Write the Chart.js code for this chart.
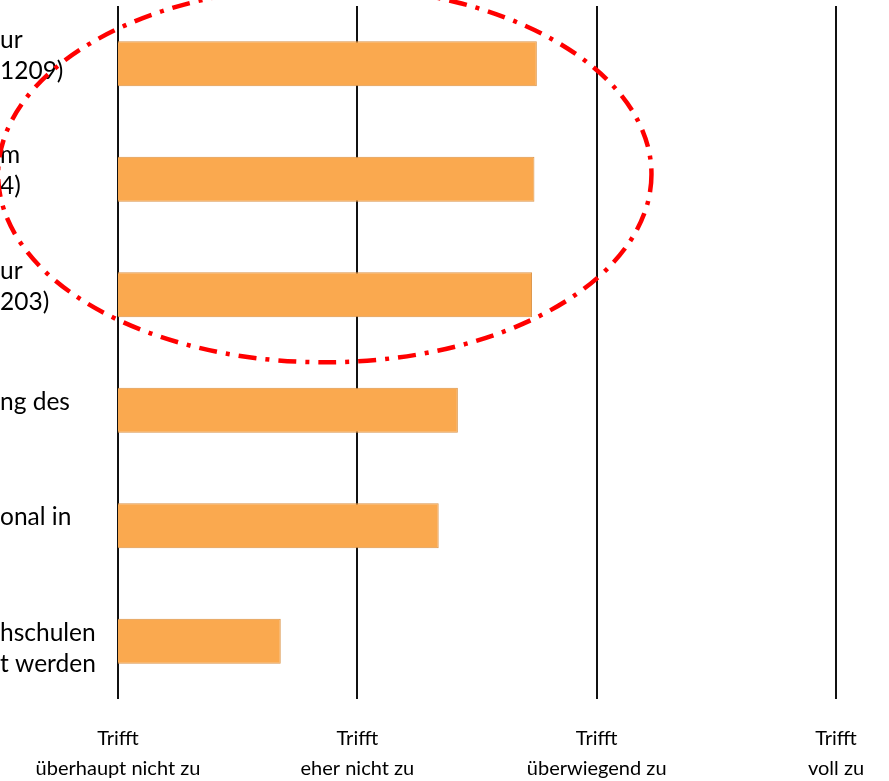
<!DOCTYPE html>
<html lang="de">
<head>
<meta charset="utf-8">
<title>Bewertung</title>
<script src="https://cdn.jsdelivr.net/npm/chart.js@4.4.1/dist/chart.umd.min.js"></script>
<style>
  html, body { margin: 0; padding: 0; background: #ffffff; }
  #wrap { width: 889px; height: 781px; overflow: hidden; }
  canvas { display: block; }
</style>
</head>
<body>
<div id="wrap"><canvas id="chart" width="889" height="781"></canvas></div>
<script>
// Category labels (one array entry per bar, one string per line)
const categories = [
  ['ur', '1209)', ''],
  ['m', '4)', ''],
  ['ur', '203)', ''],
  ['ng des', ''],
  ['onal in', ''],
  ['hschulen', 't werden']
];

// Mean agreement on the 1–4 scale
const values = [2.75, 2.74, 2.73, 2.42, 2.34, 1.68];

// Scale point labels (value 1..4)
const scaleTop = ['Trifft', 'Trifft', 'Trifft', 'Trifft'];
const scaleBottom = ['überhaupt nicht zu', 'eher nicht zu', 'überwiegend zu', 'voll zu'];

// Highlight ellipse around the first three items, in scale units
const highlightCenterX = 1.864;
const highlightCenterY = 0.957;
const highlightRadiusX = 1.365;
const highlightRadiusY = 1.628;

const highlightPlugin = {
  id: 'highlightEllipse',
  afterDraw(chart) {
    const { ctx, scales } = chart;
    const x = scales.x, y = scales.y;
    const cx = x.getPixelForValue(highlightCenterX);
    const cy = y.getPixelForValue(highlightCenterY);
    const rx = x.getPixelForValue(1 + highlightRadiusX) - x.getPixelForValue(1);
    const ry = y.getPixelForValue(1 + highlightRadiusY) - y.getPixelForValue(1);
    ctx.save();
    ctx.strokeStyle = '#ff0000';
    ctx.lineWidth = 4.5;
    ctx.setLineDash([18, 9, 4, 9]);
    ctx.beginPath();
    ctx.ellipse(cx, cy, rx, ry, 0, 0, Math.PI * 2);
    ctx.stroke();
    ctx.restore();
  }
};

new Chart(document.getElementById('chart'), {
  type: 'bar',
  data: {
    labels: categories,
    datasets: [{
      data: values,
      backgroundColor: '#faa94f',
      borderColor: '#dc9447',
      borderWidth: 1,
      borderSkipped: false,
      categoryPercentage: 1,
      barPercentage: 0.39
    }]
  },
  options: {
    indexAxis: 'y',
    responsive: false,
    devicePixelRatio: 1,
    animation: false,
    layout: { padding: { top: 6, right: 53, bottom: 0, left: 0 } },
    plugins: {
      legend: { display: false },
      tooltip: { enabled: false }
    },
    scales: {
      x: {
        type: 'linear',
        min: 1,
        max: 4,
        border: { display: false },
        grid: { color: '#111111', lineWidth: 2, drawTicks: false },
        ticks: {
          stepSize: 1,
          padding: 25,
          color: '#000000',
          maxRotation: 0,
          font: { family: 'Lato', size: 20, lineHeight: 1.5 },
          callback: (v) => [scaleTop[v - 1], scaleBottom[v - 1]]
        },
        afterFit(scale) {
          scale.height = 82;
          scale.paddingLeft = 0;
          scale.paddingRight = 0;
        }
      },
      y: {
        border: { display: false },
        grid: { display: false, drawTicks: false },
        ticks: {
          crossAlign: 'far',
          padding: 0,
          labelOffset: 7,
          color: '#000000',
          font: { family: 'Lato', size: 24.5, lineHeight: 1.27 }
        },
        afterFit(scale) {
          scale.width = 118;
          scale.paddingTop = 0;
          scale.paddingBottom = 0;
        }
      }
    }
  },
  plugins: [highlightPlugin]
});
</script>
</body>
</html>
